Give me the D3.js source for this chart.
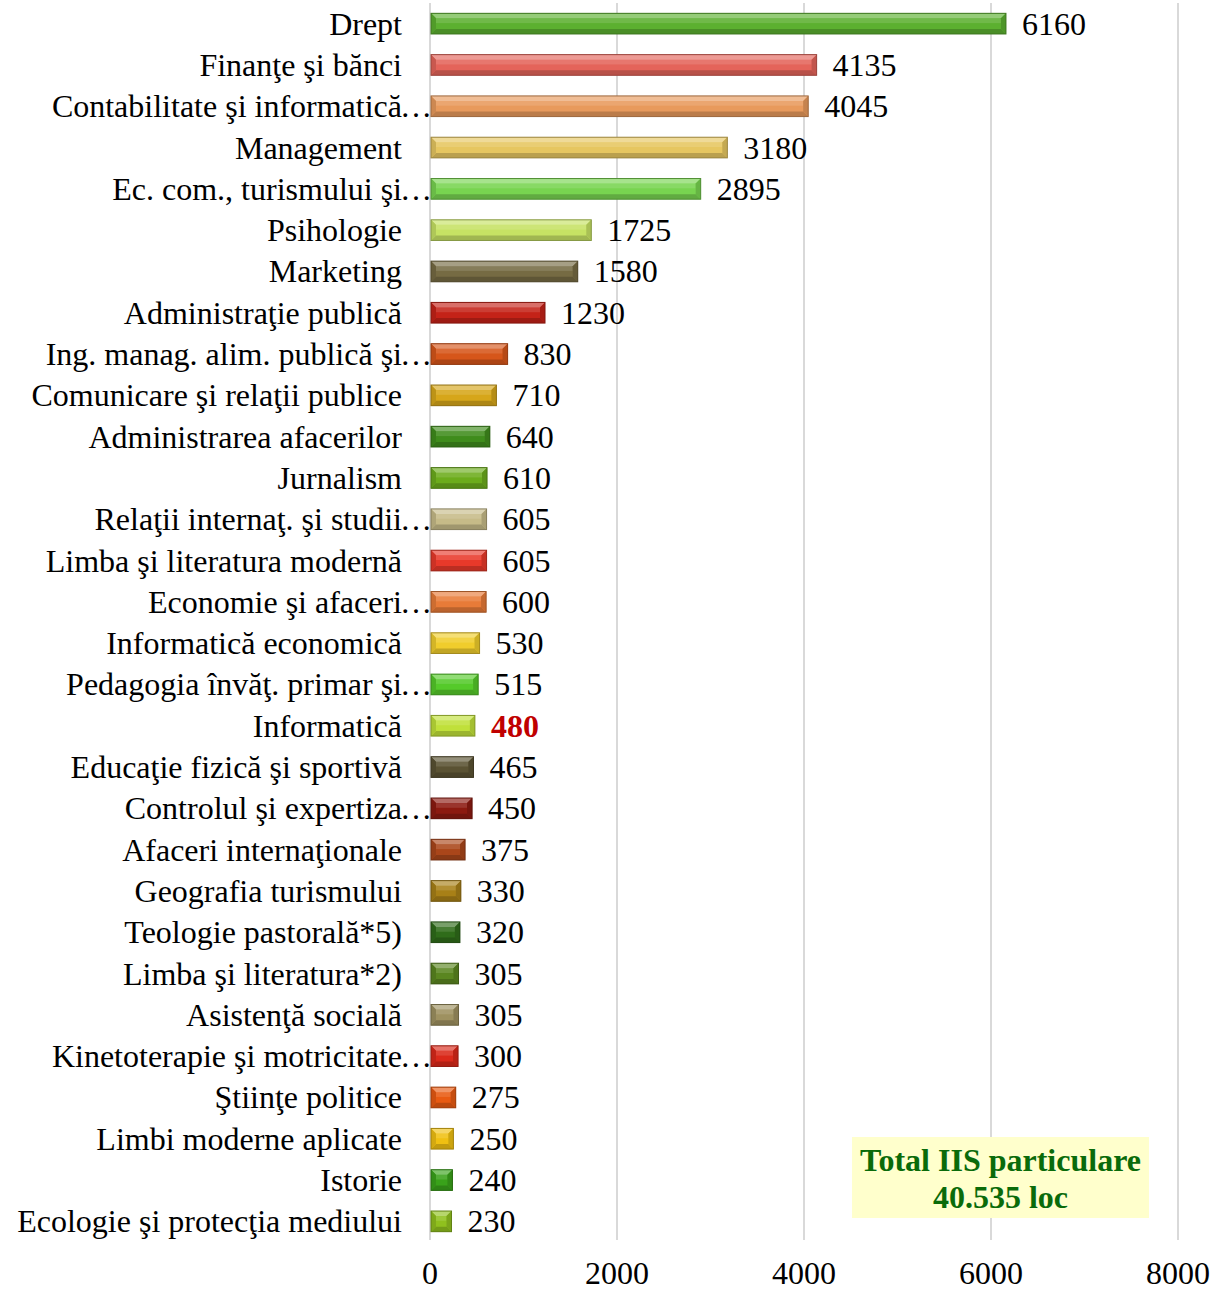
<!DOCTYPE html>
<html>
<head>
<meta charset="utf-8">
<script src="https://cdn.jsdelivr.net/npm/d3@7"></script>
<style>
  html, body { margin: 0; padding: 0; background: #ffffff; }
  svg { display: block; }
  text { font-family: "Liberation Serif", "Times New Roman", serif; }
</style>
</head>
<body>
<svg id="chart" width="1217" height="1292"></svg>
<script>
// ---- data ----
const categories = [
  "Drept", "Finanţe şi bănci", "Contabilitate şi informatică…", "Management",
  "Ec. com., turismului şi…", "Psihologie", "Marketing", "Administraţie publică",
  "Ing. manag. alim. publică şi…", "Comunicare şi relaţii publice", "Administrarea afacerilor",
  "Jurnalism", "Relaţii internaţ. şi studii…", "Limba şi literatura modernă",
  "Economie şi afaceri…", "Informatică economică", "Pedagogia învăţ. primar şi…",
  "Informatică", "Educaţie fizică şi sportivă", "Controlul şi expertiza…",
  "Afaceri internaţionale", "Geografia turismului", "Teologie pastorală*5)",
  "Limba şi literatura*2)", "Asistenţă socială", "Kinetoterapie şi motricitate…",
  "Ştiinţe politice", "Limbi moderne aplicate", "Istorie", "Ecologie şi protecţia mediului"
];
const values = [6160, 4135, 4045, 3180, 2895, 1725, 1580, 1230, 830, 710, 640, 610, 605, 605,
  600, 530, 515, 480, 465, 450, 375, 330, 320, 305, 305, 300, 275, 250, 240, 230];
const barColors = [
  "#5cb030", "#e4645a", "#e89a5c", "#e6c660", "#78d450", "#c6e264", "#766b43", "#c42218",
  "#d6561a", "#d6a61a", "#3f8c1c", "#6cac1c", "#c6bb88", "#e8392a", "#e87b38", "#f0cd2c",
  "#55ca2a", "#c0e03a", "#5a5233", "#8c1a10", "#aa461a", "#a88017", "#2f6c1a", "#5a8620",
  "#9e9160", "#da291a", "#e85a12", "#f0c012", "#39a21a", "#90c01e"
];
const highlightIndex = 17; // "Informatică" value shown in red
const xTicks = [0, 2000, 4000, 6000, 8000];
const totalLines = ["Total IIS particulare", "40.535 loc"];

// ---- layout ----
const svg = d3.select("#chart");
const x = d3.scaleLinear().domain([0, 8000]).range([430, 1178]);
const y = d3.scaleBand().domain(categories).range([3, 1242]).paddingInner(0.5).paddingOuter(0.25);
const FS = 32;

// gridlines
svg.append("g").selectAll("line").data(xTicks.slice(1)).join("line")
  .attr("x1", d => x(d)).attr("x2", d => x(d))
  .attr("y1", 3).attr("y2", 1240)
  .attr("stroke", "#d9d9d9").attr("stroke-width", 2);

// axis line
svg.append("line")
  .attr("x1", x(0)).attr("x2", x(0)).attr("y1", 3).attr("y2", 1240)
  .attr("stroke", "#d9d9d9").attr("stroke-width", 2);

// total box
const boxG = svg.append("g");
boxG.append("rect").attr("x", 852).attr("y", 1137).attr("width", 297).attr("height", 81)
  .attr("fill", "#ffffcc");
boxG.selectAll("text").data(totalLines).join("text")
  .attr("x", 1000.5).attr("y", (d, i) => 1171 + i * 37)
  .attr("text-anchor", "middle")
  .attr("font-size", 32).attr("font-weight", "bold").attr("fill", "#0a6b0a")
  .text(d => d);

// bars with bevel
const bars = svg.append("g").selectAll("g").data(categories).join("g");
bars.each(function(c, i) {
  const g = d3.select(this);
  const x0 = x(0) + 1, x1 = x(values[i]);
  const y0 = y(c), y1 = y(c) + y.bandwidth();
  const base = d3.color(barColors[i]);
  const b = Math.min(5, (x1 - x0) / 2);
  const white = t => d3.interpolateRgb(base, "#ffffff")(t);
  g.append("rect").attr("x", x0).attr("y", y0).attr("width", x1 - x0).attr("height", y1 - y0)
    .attr("fill", base);
  g.append("rect").attr("x", x0 + b).attr("y", y0 + b).attr("width", Math.max(0, x1 - x0 - 2 * b))
    .attr("height", Math.max(0, (y1 - y0 - 2 * b) * 0.45))
    .attr("fill", white(0.12));
  g.append("polygon").attr("points", [[x0, y0], [x1, y0], [x1 - b, y0 + b], [x0 + b, y0 + b]].join(" "))
    .attr("fill", white(0.35));
  g.append("polygon").attr("points", [[x0, y1], [x1, y1], [x1 - b, y1 - b], [x0 + b, y1 - b]].join(" "))
    .attr("fill", base.darker(0.6));
  g.append("polygon").attr("points", [[x0, y0], [x0 + b, y0 + b], [x0 + b, y1 - b], [x0, y1]].join(" "))
    .attr("fill", base.darker(0.35));
  g.append("polygon").attr("points", [[x1, y0], [x1 - b, y0 + b], [x1 - b, y1 - b], [x1, y1]].join(" "))
    .attr("fill", base.darker(0.45));
  g.append("rect").attr("x", x0).attr("y", y0).attr("width", x1 - x0).attr("height", y1 - y0)
    .attr("fill", "none").attr("stroke", base.darker(1.1)).attr("stroke-width", 1);
});

// value labels
svg.append("g").selectAll("text").data(categories).join("text")
  .attr("x", (c, i) => x(values[i]) + 16)
  .attr("y", c => y(c) + y.bandwidth() / 2 + 11)
  .attr("font-size", FS)
  .attr("font-weight", (c, i) => i === highlightIndex ? "bold" : "normal")
  .attr("fill", (c, i) => i === highlightIndex ? "#c00000" : "#000000")
  .text((c, i) => values[i]);

// category labels
const labG = svg.append("g");
categories.forEach(c => {
  const trunc = c.endsWith("…");
  const main = trunc ? c.slice(0, -1) : c;
  const yy = y(c) + y.bandwidth() / 2 + 11;
  labG.append("text").attr("x", 402).attr("y", yy).attr("text-anchor", "end")
    .attr("font-size", FS).attr("fill", "#000").text(main);
  if (trunc) {
    labG.append("text").attr("x", 400).attr("y", yy).attr("text-anchor", "start")
      .attr("font-size", FS).attr("fill", "#000").text("…");
  }
});

// x tick labels
svg.append("g").selectAll("text").data(xTicks).join("text")
  .attr("x", d => x(d)).attr("y", 1284)
  .attr("text-anchor", "middle").attr("font-size", FS).attr("fill", "#000")
  .text(d => d);
</script>
</body>
</html>
